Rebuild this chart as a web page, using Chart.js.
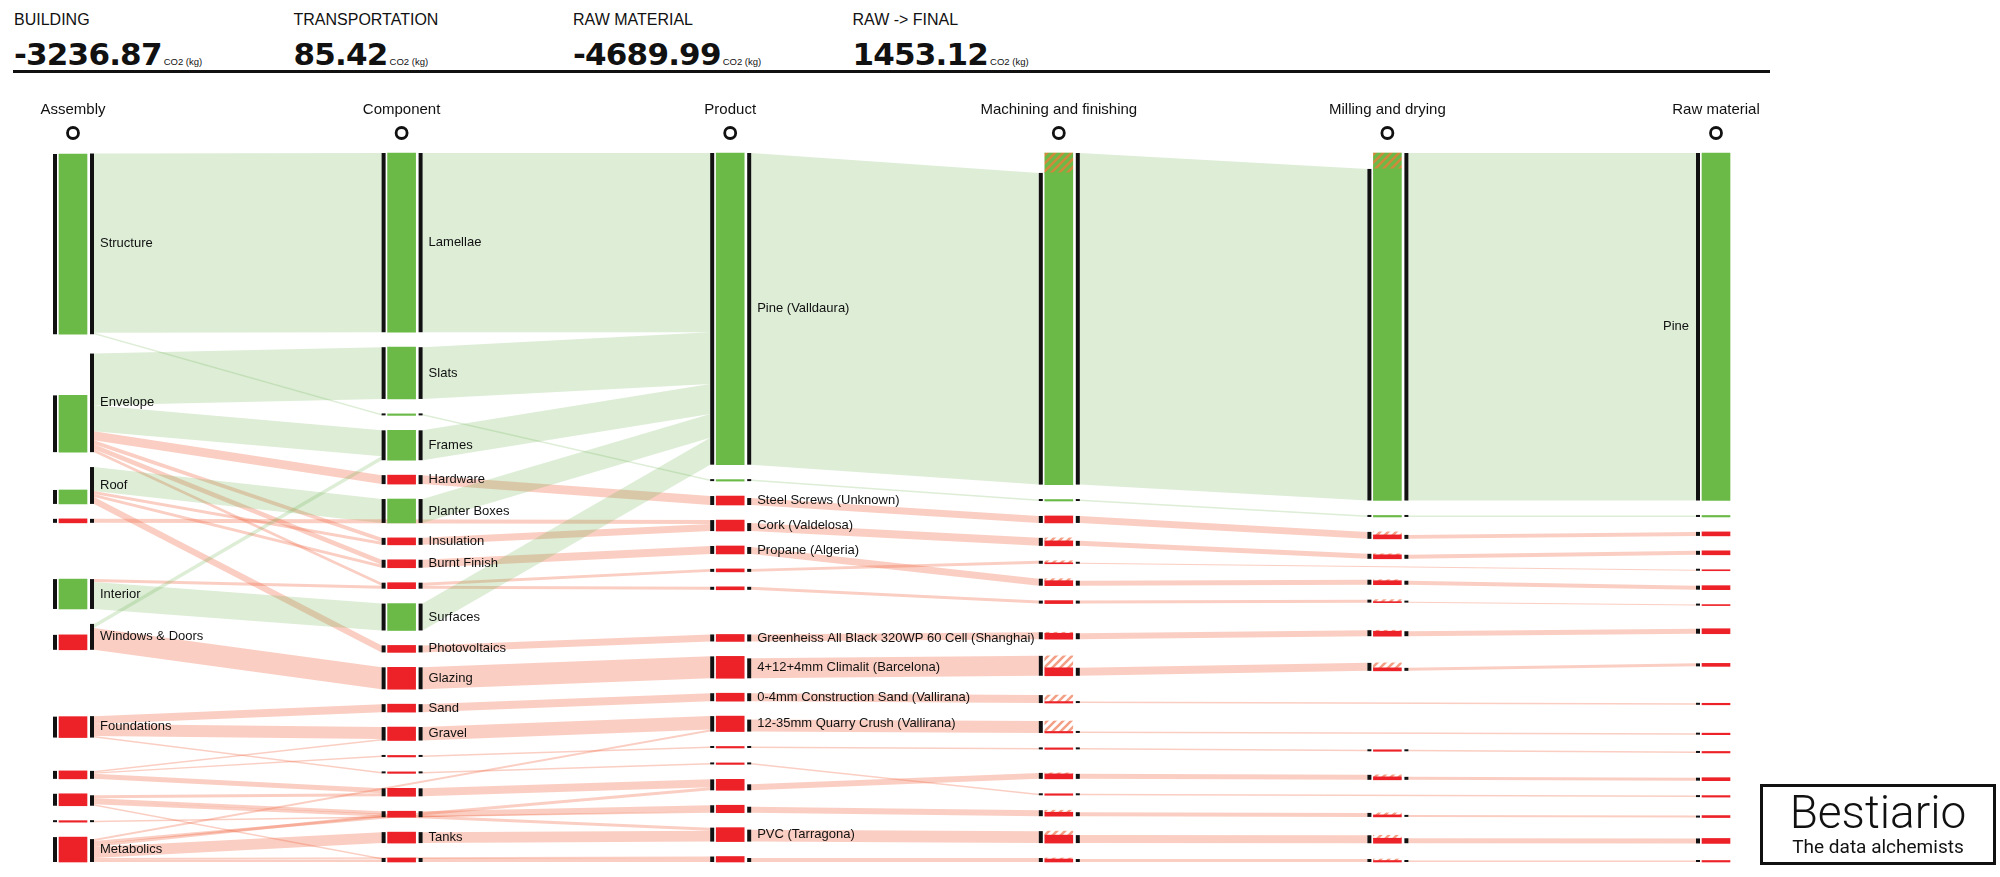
<!DOCTYPE html>
<html>
<head>
<meta charset="utf-8">
<script src="https://cdn.jsdelivr.net/npm/chart.js@4.4.1/dist/chart.umd.min.js"></script>
<style>
  body { margin: 0; background: #fff; font-family: "Liberation Sans", Arial, sans-serif; color: #111; }
  #wrap { position: relative; width: 2000px; height: 877px; overflow: hidden; }
  #chart { position: absolute; left: 0; top: 0; }
  .kpi { position: absolute; top: 11px; white-space: nowrap; }
  .kpi .t { font-size: 16px; line-height: 18px; }
  .kpi .v { position: absolute; top: 26px; left: 0; font-family: "DejaVu Sans", sans-serif; font-size: 31px; line-height: 34px; font-weight: bold; letter-spacing: -0.8px; }
  .kpi .u { font-family: "Liberation Sans", Arial, sans-serif; font-size: 9.5px; font-weight: normal; margin-left: 2px; letter-spacing: 0; }
  #rule { position: absolute; left: 13px; top: 70px; width: 1757px; height: 3px; background: #111; }
  #logo { position: absolute; left: 1760px; top: 784px; width: 230px; height: 75px; border: 3px solid #111; }
  #logo .b { position: absolute; left: 0; width: 100%; top: 2px; text-align: center; font-family: Roboto, "Liberation Sans", sans-serif; font-weight: 300; font-size: 46px; line-height: 46px; }
  #logo .s { position: absolute; left: 0; width: 100%; top: 50px; text-align: center; font-family: Roboto, "Liberation Sans", sans-serif; font-size: 19px; line-height: 19px; }
</style>
</head>
<body>
<div id="wrap">
  <div id="header"></div>
  <div id="rule"></div>
  <canvas id="chart" width="2000" height="877"></canvas>
  <div id="logo"><div class="b">Bestiario</div><div class="s">The data alchemists</div></div>
</div>
<script>
// header figures, CO2 (kg)
const kpiLabels = ['BUILDING', 'TRANSPORTATION', 'RAW MATERIAL', 'RAW -> FINAL'];
const kpiValues = [-3236.87, 85.42, -4689.99, 1453.12];

const columnTitles = ['Assembly', 'Component', 'Product', 'Machining and finishing', 'Milling and drying', 'Raw material'];

// nodes per column (ids like "c8" are unlabeled nodes)
const assemblyIds = ['Structure', 'Envelope', 'Roof', 'a3', 'Interior', 'Windows & Doors', 'Foundations', 'a7', 'a8', 'a9', 'Metabolics'];
const assemblyValues = [-181, -57, -14, 4, -30, 15, 21, 8, 12, 1.5, 25];
const componentIds = ['Lamellae', 'Slats', 'c2', 'Frames', 'Hardware', 'Planter Boxes', 'Insulation', 'Burnt Finish', 'c8', 'Surfaces',
    'Photovoltaics', 'Glazing', 'Sand', 'Gravel', 'c14', 'c15', 'c16', 'c17', 'Tanks', 'c19'];
const productIds = ['Pine (Valldaura)', 'p1', 'Steel Screws (Unknown)', 'Cork (Valdelosa)', 'Propane (Algeria)', 'p5', 'p6',
    'Greenheiss All Black 320WP 60 Cell (Shanghai)', '4+12+4mm Climalit (Barcelona)', '0-4mm Construction Sand (Vallirana)',
    '12-35mm Quarry Crush (Vallirana)', 'p11', 'p12', 'p13', 'p14', 'PVC (Tarragona)', 'p16'];
const machiningIds = ['m0', 'm1', 'm2', 'm3', 'm4', 'm5', 'm6', 'm7', 'm8', 'm9', 'm10', 'm11', 'm12', 'm13', 'm14', 'm15', 'm16'];
const millingIds = ['l0', 'l1', 'l2', 'l3', 'l4', 'l5', 'l6', 'l7', 'l8', 'l9', 'l10', 'l11', 'l12'];
const rawIds = ['Pine', 'r1', 'r2', 'r3', 'r4', 'r5', 'r6', 'r7', 'r8', 'r9', 'r10', 'r11', 'r12', 'r13', 'r14', 'r15', 'r16'];

// flows [from, to, value]; negative = stored carbon (green)
const assemblyLinks = [
    ['Structure', 'Lamellae', -180], ['Structure', 'c2', -1.5],
    ['Envelope', 'Slats', -52], ['Envelope', 'Frames', -26], ['Envelope', 'Hardware', 9], ['Envelope', 'Insulation', 4],
    ['Envelope', 'Burnt Finish', 5], ['Envelope', 'c8', 3],
    ['Roof', 'Planter Boxes', -24], ['Roof', 'Insulation', 3], ['Roof', 'Burnt Finish', 3], ['Roof', 'Photovoltaics', 7],
    ['a3', 'Cork (Valdelosa)', 4],
    ['Interior', 'Surfaces', -27], ['Interior', 'c8', 3],
    ['Windows & Doors', 'Frames', -4], ['Windows & Doors', 'Glazing', 22],
    ['Foundations', 'Sand', 8], ['Foundations', 'Gravel', 12], ['Foundations', 'c15', 1.5],
    ['a7', 'c16', 5], ['a7', 'c14', 1.5], ['a7', 'Gravel', 1.5],
    ['a8', 'c17', 3], ['a8', 'c16', 3], ['a8', 'PVC (Tarragona)', 3], ['a8', 'c19', 1.5],
    ['a9', 'p14', 1.5],
    ['Metabolics', 'c17', 3], ['Metabolics', 'Tanks', 11], ['Metabolics', 'c19', 2.5],
    ['Metabolics', '12-35mm Quarry Crush (Vallirana)', 2], ['Metabolics', 'p13', 3], ['Metabolics', 'p16', 1.5]
];
const componentLinks = [
    ['Lamellae', 'Pine (Valldaura)', -180], ['Slats', 'Pine (Valldaura)', -52], ['c2', 'p1', -1.5],
    ['Frames', 'Pine (Valldaura)', -30], ['Hardware', 'Steel Screws (Unknown)', 9], ['Planter Boxes', 'Pine (Valldaura)', -24],
    ['Insulation', 'Cork (Valdelosa)', 7], ['Burnt Finish', 'Propane (Algeria)', 8], ['c8', 'p5', 3], ['c8', 'p6', 3],
    ['Surfaces', 'Pine (Valldaura)', -27], ['Photovoltaics', 'Greenheiss All Black 320WP 60 Cell (Shanghai)', 7],
    ['Glazing', '4+12+4mm Climalit (Barcelona)', 22], ['Sand', '0-4mm Construction Sand (Vallirana)', 8],
    ['Gravel', '12-35mm Quarry Crush (Vallirana)', 13.5], ['c14', 'p11', 1.5], ['c15', 'p12', 1.5], ['c16', 'p13', 8],
    ['c17', 'p14', 6], ['Tanks', 'PVC (Tarragona)', 11], ['c19', 'p16', 4]
];
const productLinks = [
    ['Pine (Valldaura)', 'm0', -313], ['p1', 'm1', -1.5], ['Steel Screws (Unknown)', 'm2', 7], ['Cork (Valdelosa)', 'm3', 8],
    ['Propane (Algeria)', 'm5', 7], ['p5', 'm4', 3], ['p6', 'm6', 3], ['Greenheiss All Black 320WP 60 Cell (Shanghai)', 'm7', 7],
    ['4+12+4mm Climalit (Barcelona)', 'm8', 20], ['0-4mm Construction Sand (Vallirana)', 'm9', 8],
    ['12-35mm Quarry Crush (Vallirana)', 'm10', 12], ['p11', 'm11', 1.5], ['p12', 'm13', 1.5], ['p13', 'm12', 6],
    ['p14', 'm14', 6], ['PVC (Tarragona)', 'm15', 12], ['p16', 'm16', 4]
];
const machiningLinks = [
    ['m0', 'l0', -333], ['m1', 'l1', -1.5], ['m2', 'l2', 7], ['m3', 'l3', 5], ['m4', 'r4', 1], ['m5', 'l4', 5],
    ['m6', 'l5', 3], ['m7', 'l6', 6], ['m8', 'l7', 8], ['m9', 'r9', 1.5], ['m10', 'r10', 1.5], ['m11', 'l8', 1.5],
    ['m12', 'l9', 5], ['m13', 'r13', 1.5], ['m14', 'l10', 4], ['m15', 'l11', 8], ['m16', 'l12', 3]
];
const millingLinks = [
    ['l0', 'Pine', -349], ['l1', 'r1', -1.5], ['l2', 'r2', 4], ['l3', 'r3', 4], ['l4', 'r5', 4], ['l5', 'r6', 1],
    ['l6', 'r7', 5], ['l7', 'r8', 3], ['l8', 'r11', 1.5], ['l9', 'r12', 3], ['l10', 'r14', 2], ['l11', 'r15', 5],
    ['l12', 'r16', 1.5]
];

const GREEN = '#6bba48';
const RED = '#ec2228';
const GREEN_LINK = 'rgba(120, 185, 90, 0.25)';
const RED_LINK = 'rgba(240, 105, 70, 0.33)';
const PAD = 15;      // gap between nodes
const ITERATIONS = 16;

window.onload = function () {
    // header
    const header = document.getElementById('header');
    kpiLabels.forEach((label, i) => {
        const d = document.createElement('div');
        d.className = 'kpi';
        d.style.left = (14 + i * 279.5) + 'px';
        d.innerHTML = '<div class="t">' + label.replace('>', '&gt;') + '</div><div class="v">' +
            kpiValues[i].toFixed(2) + '<span class="u">CO2 (kg)</span></div>';
        header.appendChild(d);
    });

    // graph
    const nodeMap = {};
    const cols = [assemblyIds, componentIds, productIds, machiningIds, millingIds, rawIds].map((list, c) =>
        list.map((id, i) => {
            const n = { id: id, col: c, label: /^[a-z]\d+$/.test(id) ? '' : id, ins: [], outs: [] };
            if (c === 0) n.value = assemblyValues[i];
            nodeMap[id] = n;
            return n;
        }));
    const allNodes = cols.flat();
    const links = [...assemblyLinks, ...componentLinks, ...productLinks, ...machiningLinks, ...millingLinks].map(([s, t, v]) => {
        const l = { s: nodeMap[s], t: nodeMap[t], v: v, w: Math.abs(v) };
        l.s.outs.push(l);
        l.t.ins.push(l);
        return l;
    });

    allNodes.forEach((n) => {
        n.outV = n.outs.reduce((a, l) => a + l.w, 0);
        if (n.col === 0) {
            n.inV = Math.abs(n.value);
            n.sign = Math.sign(n.value);
        } else {
            n.inV = n.ins.reduce((a, l) => a + l.w, 0);
            n.sign = Math.sign(n.ins.reduce((a, l) => a + l.v, 0));
        }
        const processed = n.col === 3 || n.col === 4;
        n.body = processed ? Math.max(n.inV, n.outV) : n.inV;
        n.solid = processed ? Math.min(n.inV, n.outV) : n.inV;
        n.size = Math.max(n.inV, n.outV, n.body);
    });

    // sankey layout (value units), relaxation in the spirit of d3-sankey
    const height = Math.max(...cols.map((c) => c.reduce((a, n) => a + n.size, 0) + (c.length - 1) * PAD));
    cols.forEach((c) => {
        let y = 0;
        c.forEach((n) => { n.y0 = y; n.y1 = y + n.size; y = n.y1 + PAD; });
        const extra = (height - (y - PAD)) / (c.length + 1);
        c.forEach((n, i) => { n.y0 += extra * (i + 1); n.y1 += extra * (i + 1); });
    });

    function placeLinks() {
        allNodes.forEach((n) => {
            n.outs.sort((a, b) => a.t.y0 - b.t.y0 || a.t.col - b.t.col);
            n.ins.sort((a, b) => a.s.y0 - b.s.y0 || a.s.col - b.s.col);
            let y = n.y1 - n.outV;
            n.outs.forEach((l) => { l.sy = y; y += l.w; });
            y = n.y1 - n.inV;
            n.ins.forEach((l) => { l.ty = y; y += l.w; });
        });
    }
    function topToBottom(nodes, y, i, alpha) {
        for (; i < nodes.length; ++i) {
            const n = nodes[i];
            const dy = (y - n.y0) * alpha;
            if (dy > 1e-6) { n.y0 += dy; n.y1 += dy; }
            y = n.y1 + PAD;
        }
    }
    function bottomToTop(nodes, y, i, alpha) {
        for (; i >= 0; --i) {
            const n = nodes[i];
            const dy = (n.y1 - y) * alpha;
            if (dy > 1e-6) { n.y0 -= dy; n.y1 -= dy; }
            y = n.y0 - PAD;
        }
    }
    function resolve(nodes, alpha) {
        const i = nodes.length >> 1;
        const subject = nodes[i];
        bottomToTop(nodes, subject.y0 - PAD, i - 1, alpha);
        topToBottom(nodes, subject.y1 + PAD, i + 1, alpha);
        bottomToTop(nodes, height, nodes.length - 1, alpha);
        topToBottom(nodes, 0, 0, alpha);
    }
    function relax(alpha, beta, forward) {
        const order = forward ? [1, 2, 3, 4, 5] : [4, 3, 2, 1, 0];
        order.forEach((c) => {
            cols[c].forEach((n) => {
                const list = forward ? n.ins : n.outs;
                let y = 0, w = 0;
                list.forEach((l) => {
                    const v = l.w * (l.t.col - l.s.col);
                    y += (n.y0 + (forward ? l.sy - l.ty : l.ty - l.sy)) * v;
                    w += v;
                });
                if (w > 0) {
                    const dy = (y / w - n.y0) * alpha;
                    n.y0 += dy;
                    n.y1 += dy;
                }
            });
            resolve(cols[c], beta);
            placeLinks();
        });
    }
    placeLinks();
    for (let i = 0; i < ITERATIONS; i++) {
        const alpha = Math.pow(0.99, i);
        const beta = Math.max(1 - alpha, (i + 1) / ITERATIONS);
        relax(alpha, beta, false);
        relax(alpha, beta, true);
    }
    placeLinks();

    // hatch patterns
    const canvas = document.getElementById('chart');
    const ctx = canvas.getContext('2d');
    function hatch(bg, fg) {
        const tile = document.createElement('canvas');
        tile.width = tile.height = 8;
        const g = tile.getContext('2d');
        if (bg) { g.fillStyle = bg; g.fillRect(0, 0, 8, 8); }
        g.strokeStyle = fg;
        g.lineWidth = 2.6;
        g.beginPath();
        g.moveTo(-1, 9); g.lineTo(9, -1);
        g.moveTo(-3, 3); g.lineTo(3, -3);
        g.moveTo(5, 11); g.lineTo(11, 5);
        g.stroke();
        return ctx.createPattern(tile, 'repeat');
    }
    const greenHatch = hatch(GREEN, '#d08a3c');
    const redHatch = hatch(null, '#f3a087');

    const solidData = allNodes.map((n) => ({ x: n.col, y: [n.y1 - n.solid, n.y1] }));
    const solidColors = allNodes.map((n) => (n.sign < 0 ? GREEN : RED));
    const hatchNodes = allNodes.filter((n) => n.body - n.solid > 0.01);
    const hatchData = hatchNodes.map((n) => ({ x: n.col, y: [n.y1 - n.body, n.y1 - n.solid] }));
    const hatchColors = hatchNodes.map((n) => (n.sign < 0 ? greenHatch : redHatch));

    const sankeyPlugin = {
        id: 'sankey',
        beforeDatasetsDraw(chart) {
            const c = chart.ctx;
            const xs = chart.scales.x, ys = chart.scales.y;
            c.save();
            links.forEach((l) => {
                const x0 = xs.getPixelForValue(l.s.col) + 21;
                const x1 = xs.getPixelForValue(l.t.col) - 20;
                c.fillStyle = l.t.sign < 0 ? GREEN_LINK : RED_LINK;
                c.beginPath();
                c.moveTo(x0, ys.getPixelForValue(l.sy));
                c.lineTo(x1, ys.getPixelForValue(l.ty));
                c.lineTo(x1, ys.getPixelForValue(l.ty + l.w));
                c.lineTo(x0, ys.getPixelForValue(l.sy + l.w));
                c.closePath();
                c.fill();
            });
            c.restore();
        },
        afterDatasetsDraw(chart) {
            const c = chart.ctx;
            const xs = chart.scales.x, ys = chart.scales.y;
            const top = chart.chartArea.top;
            c.save();
            c.fillStyle = '#111';
            allNodes.forEach((n) => {
                const X = xs.getPixelForValue(n.col);
                const yb = ys.getPixelForValue(n.y1);
                if (n.inV > 0) {
                    const h = Math.max(yb - ys.getPixelForValue(n.y1 - n.inV), 2);
                    c.fillRect(X - 20, yb - h, 4, h);
                }
                if (n.col < 5 && n.outV > 0) {
                    const h = Math.max(yb - ys.getPixelForValue(n.y1 - n.outV), 2);
                    c.fillRect(X + 17, yb - h, 4, h);
                }
            });
            c.font = '13px "Liberation Sans", Arial, sans-serif';
            c.textBaseline = 'middle';
            allNodes.forEach((n) => {
                if (!n.label) return;
                const X = xs.getPixelForValue(n.col);
                const ym = ys.getPixelForValue((n.y0 + n.y1) / 2);
                if (n.col === 5) {
                    c.textAlign = 'right';
                    c.fillText(n.label, X - 27, ym);
                } else {
                    c.textAlign = 'left';
                    c.fillText(n.label, X + 27, ym);
                }
            });
            c.font = '15px "Liberation Sans", Arial, sans-serif';
            c.textAlign = 'center';
            c.strokeStyle = '#111';
            c.lineWidth = 2.8;
            columnTitles.forEach((t, i) => {
                const X = xs.getPixelForValue(i);
                c.fillText(t, X, top - 43);
                c.beginPath();
                c.arc(X, top - 20, 5.5, 0, Math.PI * 2);
                c.stroke();
            });
            c.restore();
        }
    };

    new Chart(ctx, {
        type: 'bar',
        data: {
            datasets: [
                { data: solidData, backgroundColor: solidColors, barThickness: 28, grouped: false, clip: false, borderWidth: 0 },
                { data: hatchData, backgroundColor: hatchColors, barThickness: 28, grouped: false, clip: false, borderWidth: 0 }
            ]
        },
        options: {
            responsive: false,
            animation: false,
            events: [],
            layout: { padding: { left: 73, right: 284, top: 153, bottom: 15 } },
            plugins: { legend: { display: false }, tooltip: { enabled: false } },
            scales: {
                x: { type: 'linear', min: 0, max: 5, offset: false, display: false },
                y: { type: 'linear', min: 0, max: height, reverse: true, display: false }
            }
        },
        plugins: [sankeyPlugin]
    });
};
</script>
</body>
</html>
